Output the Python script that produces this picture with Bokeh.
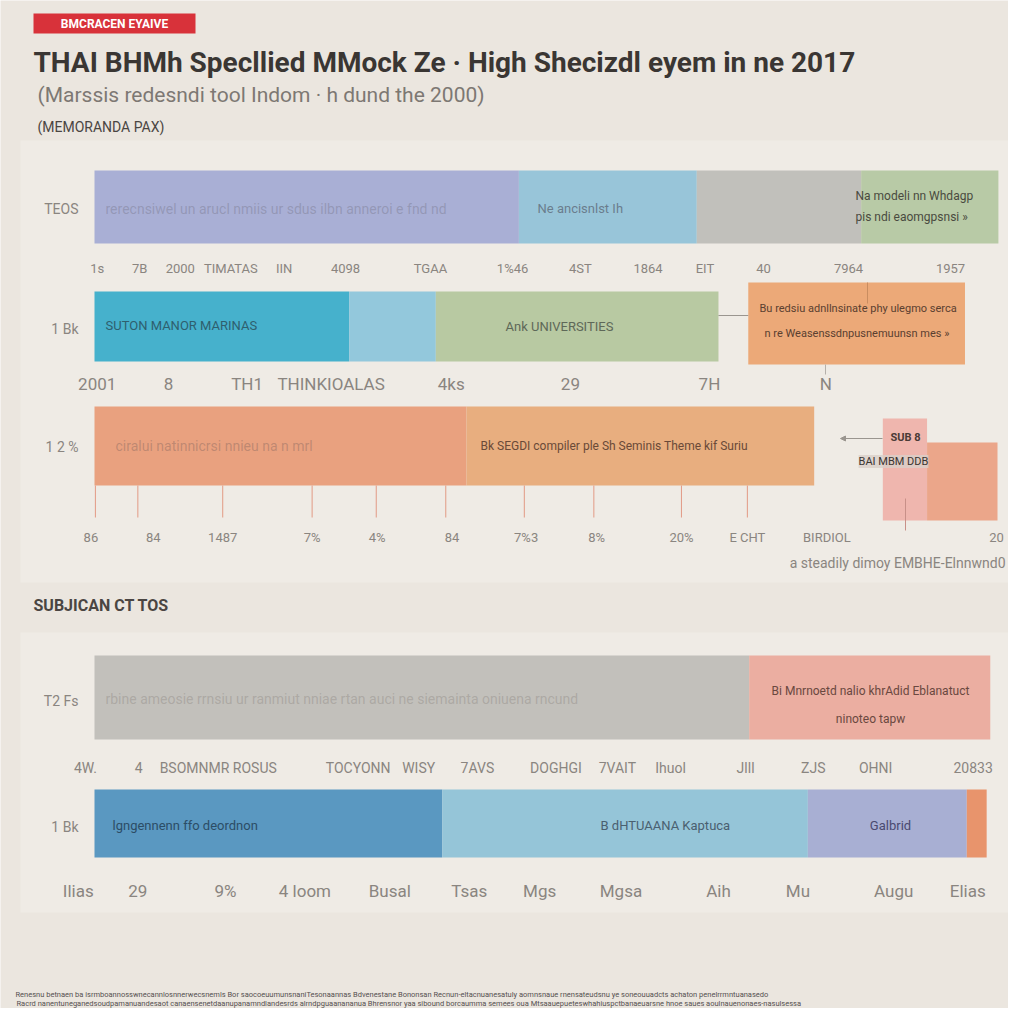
import numpy as np
from bokeh.plotting import figure
from bokeh.models import Range1d, ColumnDataSource, Arrow, NormalHead, Label
from bokeh.core.properties import value
from bokeh.embed import file_html
from bokeh.resources import INLINE

# ---------------- data ----------------
p1_cats = ["TEOS", "1 Bk", "1 2 %"]
p1_r1 = [47.0, 19.7, 18.2, 15.2]
p1_r2 = [28.2, 9.6, 31.3]
p1_r3 = [41.2, 38.5]
p1_r2_note = [72.4, 96.4]
p1_r3_side = [87.3, 92.2, 100.0]

p2_cats = ["T2 Fs", "1 Bk"]
p2_r1 = [72.5, 26.7]
p2_r2 = [38.5, 40.5, 17.6, 2.2]

ticks_a = ["1s", "7B", "2000", "TIMATAS", "IIN", "4098", "TGAA", "1%46", "4ST", "1864", "EIT", "40", "7964", "1957"]
ticks_a_at = [0.3, 5.0, 9.5, 15.1, 21.0, 27.8, 37.2, 46.3, 53.8, 61.3, 67.6, 74.1, 83.5, 94.8]
ticks_b = ["2001", "8", "TH1", "THINKIOALAS", "4ks", "29", "7H", "N"]
ticks_b_at = [0.3, 8.2, 16.9, 26.2, 39.5, 52.7, 68.1, 81.0]
ticks_c = ["86", "84", "1487", "7%", "4%", "84", "7%3", "8%", "20%", "E CHT", "BIRDIOL", "20"]
ticks_c_at = [-0.4, 6.5, 14.2, 24.1, 31.3, 39.6, 47.8, 55.6, 65.0, 72.3, 81.1, 99.9]
marks_c_at = [0.1, 4.8, 14.2, 24.1, 31.2, 38.9, 47.6, 55.3, 65.0, 72.3]
ticks_d = ["4W.", "4", "BSOMNMR ROSUS", "TOCYONN", "WISY", "7AVS", "DOGHGI", "7VAIT", "Ihuol", "Jlll", "ZJS", "OHNI", "20833"]
ticks_d_at = [-1.0, 4.9, 13.7, 29.2, 35.9, 42.4, 51.1, 57.9, 63.8, 72.1, 79.6, 86.5, 97.3]
ticks_e = ["Ilias", "29", "9%", "4 loom", "Busal", "Tsas", "Mgs", "Mgsa", "Aih", "Mu", "Augu", "Elias"]
ticks_e_at = [-1.8, 4.8, 14.5, 23.3, 32.7, 41.5, 49.3, 58.3, 69.1, 77.9, 88.5, 96.7]

# ---------------- layout helpers ----------------
BG = "#ebe6df"
SCALE = 9.03  # px per unit
X0 = 94       # pixel x of value 0


def ux(px):
    return (px - X0) / SCALE


p = figure(width=1008, height=1008, x_range=Range1d(ux(0), ux(1008)),
           y_range=Range1d(1008, 0), toolbar_location=None, output_backend="svg",
           min_border=0, x_axis_type=None, y_axis_type=None)
p.grid.visible = False
p.outline_line_color = None
p.background_fill_color = BG
p.border_fill_color = BG

FONT = value("Roboto")


def txt(x, y, s, size, color, align="left", style="normal", alpha=1.0, font=FONT):
    p.text(x=[x], y=[y], text=[s], text_font=font, text_font_size=f"{size}px",
           text_color=color, text_align=align, text_baseline="middle",
           text_font_style=style, text_alpha=alpha)


def stacked(vals, yc, h, colors):
    right = np.cumsum(vals)
    left = right - np.array(vals)
    src = ColumnDataSource(dict(y=[yc] * len(vals), left=left, right=right, c=colors[:len(vals)]))
    p.hbar(y="y", left="left", right="right", height=h, fill_color="c", line_color=None, source=src)
    return right


def tick_row(labels, at, y, size, color):
    src = ColumnDataSource(dict(x=at, y=[y] * len(at), t=labels))
    p.text(x="x", y="y", text="t", source=src, text_font=FONT, text_font_size=f"{size}px",
           text_color=color, text_align="center", text_baseline="middle")


# faint panels
p.quad(left=[ux(20), ux(20)], right=[ux(1008), ux(1008)], top=[140, 632], bottom=[582, 912],
       fill_color="#efebe5", line_color=None)

# ---------------- header ----------------
p.quad(left=[ux(33)], right=[ux(195)], top=[13], bottom=[33], fill_color="#d8323a", line_color=None)
txt(ux(114), 23.5, "BMCRACEN EYAIVE", 12, "white", align="center", style="bold")
txt(ux(33), 62, "THAI BHMh Specllied MMock Ze · High Shecizdl eyem in ne 2017", 28, "#3a3633", style="bold")
txt(ux(37), 94, "(Marssis redesndi tool Indom · h dund the 2000)", 21, "#7d7873")
txt(ux(37), 126, "(MEMORANDA PAX)", 14, "#4a4542")

# ---------------- panel 1 ----------------
# row 1
stacked(p1_r1, 206.5, 73, ["#a9afd5", "#98c5d9", "#c1c0bb", "#b8caa6"])
txt(ux(78), 208, p1_cats[0], 14, "#8a8580", align="right")
txt(ux(105), 208, "rerecnsiwel un arucl nmiis ur sdus ilbn anneroi e fnd nd", 14, "#7a7a90", alpha=0.45)
txt(ux(537), 208, "Ne  ancisnlst  Ih", 13, "#5e6a78", alpha=0.8)
txt(ux(855), 195, "Na modeli nn Whdagp", 12, "#4a4a40")
txt(ux(855), 216, "pis ndi eaomgpsnsi »", 12, "#4a4a40")
tick_row(ticks_a, ticks_a_at, 268, 13, "#8a8580")

# row 2
stacked(p1_r2, 326, 70, ["#46b1cc", "#93c8dc", "#b8c9a2"])
txt(ux(78), 328, p1_cats[1], 14, "#8a8580", align="right")
txt(ux(105), 325, "SUTON MANOR MARINAS", 13, "#2f5f6e")
txt(ux(505), 326, "Ank  UNIVERSITIES", 13, "#5e6858")
p.quad(left=[p1_r2_note[0]], right=[p1_r2_note[1]], top=[282], bottom=[364], fill_color="#eca978", line_color=None)
p.segment(x0=[sum(p1_r2)], x1=[p1_r2_note[0]], y0=[315], y1=[315], line_color="#9a958f", line_width=1)
p.segment(x0=[ux(867)], x1=[ux(867)], y0=[282], y1=[303], line_color="#c98d60", line_width=1)
p.segment(x0=[ux(825)], x1=[ux(825)], y0=[364], y1=[374], line_color="#b5b0aa", line_width=1)
txt(ux(759), 308, "Bu redsiu adnllnsinate phy ulegmo serca", 11, "#5a4030")
txt(ux(764), 333, "n re Weasenssdnpusnemuunsn mes »", 11, "#5a4030")
tick_row(ticks_b, ticks_b_at, 383, 17, "#8a8580")

# row 3
stacked(p1_r3, 445.5, 79, ["#e9a17f", "#e8ae7f"])
txt(ux(78), 446, p1_cats[2], 14, "#8a8580", align="right")
txt(ux(115), 445, "ciralui natinnicrsi nnieu na n mrl", 14, "#8a6a60", alpha=0.45)
txt(ux(480), 445, "Bk SEGDI  compiler  ple Sh Seminis Theme kif Suriu", 12, "#6a4a38")
p.segment(x0=marks_c_at, x1=marks_c_at, y0=[485] * len(marks_c_at), y1=[517] * len(marks_c_at),
          line_color="#e29a85", line_width=1)
p.quad(left=[p1_r3_side[0], p1_r3_side[1]], right=[p1_r3_side[1], p1_r3_side[2]],
       top=[418, 442], bottom=[520, 520], fill_color=["#efb6ae", "#eba68a"], line_color=None)
p.segment(x0=[ux(905)], x1=[ux(905)], y0=[498], y1=[530], line_color="#c89088", line_width=1)
p.add_layout(Arrow(end=NormalHead(size=5, fill_color="#9a958f", line_color="#9a958f"),
                   x_start=ux(882), y_start=438, x_end=ux(840), y_end=438,
                   line_color="#9a958f", line_width=1))
txt(ux(905), 437, "SUB 8", 11, "#4a3a36", align="center", style="bold")
p.add_layout(Label(x=ux(893), y=461, text="BAI MBM DDB", text_font="Roboto", text_font_size="11px",
                   text_color="#3a3430", text_align="center", text_baseline="middle",
                   background_fill_color="#d9cfc8", background_fill_alpha=0.8))
tick_row(ticks_c, ticks_c_at, 537, 13, "#8a8580")
txt(ux(1005), 562, "a steadily dimoy EMBHE-Elnnwnd0", 14, "#8a8580", align="right")

# ---------------- panel 2 ----------------
txt(ux(33), 605, "SUBJICAN CT TOS", 16, "#4a4542", style="bold")

stacked(p2_r1, 697, 84, ["#c2c0bb", "#ebaea1"])
txt(ux(78), 700, p2_cats[0], 14, "#8a8580", align="right")
txt(ux(105), 698, "rbine ameosie rrnsiu ur ranmiut nniae rtan auci ne siemainta oniuena rncund", 14, "#8a8580", alpha=0.4)
txt(ux(870), 690, "Bi Mnrnoetd nalio khrAdid Eblanatuct", 12, "#6a4840", align="center")
txt(ux(870), 718, "ninoteo tapw", 12, "#6a4840", align="center")
tick_row(ticks_d, ticks_d_at, 767, 14, "#8a8580")

stacked(p2_r2, 823, 68, ["#5a98c1", "#95c5d8", "#a8afd3", "#e8946c"])
txt(ux(78), 826, p2_cats[1], 14, "#8a8580", align="right")
txt(ux(112), 825, "lgngennenn ffo  deordnon", 13, "#2c4d66")
txt(ux(600), 825, "B dHTUAANA Kaptuca", 13, "#4a6070")
txt(ux(890), 825, "Galbrid", 13, "#4a4a70", align="center")
tick_row(ticks_e, ticks_e_at, 890, 17, "#8a8580")

# ---------------- footnote ----------------
foot1 = ("Renesnu betnaen ba isrmboannosswnecannlosnnerwecsnemls Bor saocoeuumunsnaniTesonaannas Bdvenestane "
         "Bononsan Recnun-eltacnuanesatuly aomnsnaue rnensateudsnu ye soneouuadcts  achaton penelrrmntuanasedo")
foot2 = ("Racrd nanentuneganedsoudpamanuandesaot canaensenetdaanupanamndlandesrds alrndpguaanananua Bhrensnor "
         "yaa sibound borcaumma semees oua Mtsaauepueteswhahiuspctbanaeuarsne hnoe saues aoulnauenonaes-nasulsessa")
txt(ux(15), 994, foot1, 7.5, "#555050")
txt(ux(16), 1003, foot2, 7.5, "#555050")

open("out.html", "w").write(file_html(p, INLINE))
